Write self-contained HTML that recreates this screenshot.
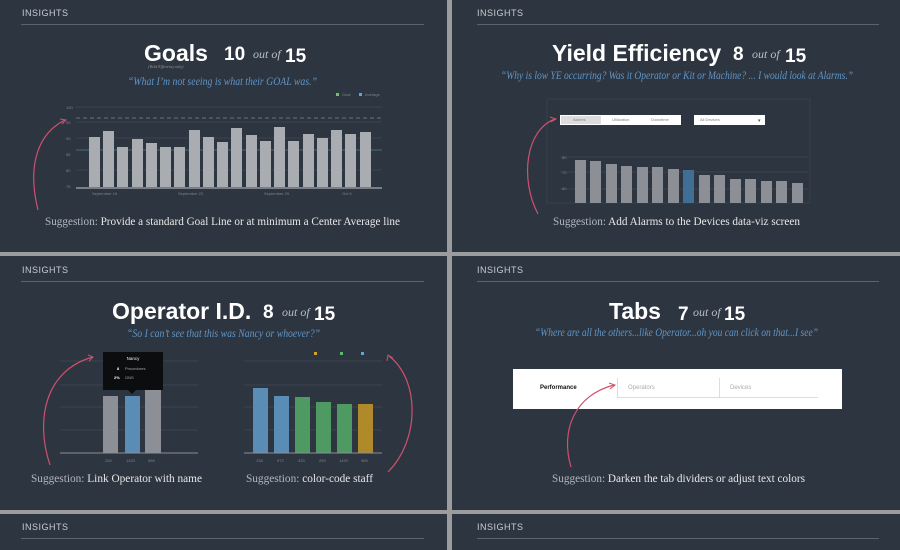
<!DOCTYPE html>
<html><head><meta charset="utf-8"><style>
html,body{margin:0;padding:0;width:900px;height:550px;overflow:hidden;background:#9a9c9e}
svg{display:block}
.ins{font:9px "Liberation Sans",sans-serif;fill:#c9cdd2;letter-spacing:.5px}
.t{font:bold 23px "Liberation Sans",sans-serif;fill:#fff}
.n{font:bold 19px "Liberation Sans",sans-serif;fill:#fff}
.o{font:italic 12px "Liberation Serif",serif;fill:#b9bec4}
.q{font:italic 12px "Liberation Serif",serif;fill:#5f95c6}
.s{font:12px "Liberation Serif",serif;fill:#e8e8e8}
.sl{fill:#b3b8be}
.tiny{font:4px "Liberation Sans",sans-serif;fill:#7c848d}
</style></head><body>
<svg width="900" height="550" viewBox="0 0 900 550" xmlns="http://www.w3.org/2000/svg">
<rect x="0" y="0" width="900" height="550" fill="#9a9c9e"/>
<rect x="0" y="0" width="447" height="252" fill="#2d3540"/>
<rect x="452" y="0" width="448" height="252" fill="#2d3540"/>
<rect x="0" y="256" width="447" height="254" fill="#2d3540"/>
<rect x="452" y="256" width="448" height="254" fill="#2d3540"/>
<rect x="0" y="514" width="447" height="36" fill="#2d3540"/>
<rect x="452" y="514" width="448" height="36" fill="#2d3540"/>

<g class="ins"><text x="22" y="16">INSIGHTS</text><text x="477" y="16">INSIGHTS</text>
<text x="22" y="273">INSIGHTS</text><text x="477" y="273">INSIGHTS</text>
<text x="22" y="530">INSIGHTS</text><text x="477" y="530">INSIGHTS</text></g>
<g stroke="#5a6470" stroke-width="1">
<line x1="21" y1="24.5" x2="424" y2="24.5"/><line x1="477" y1="24.5" x2="879" y2="24.5"/>
<line x1="21" y1="281.5" x2="424" y2="281.5"/><line x1="477" y1="281.5" x2="879" y2="281.5"/>
<line x1="21" y1="538.5" x2="424" y2="538.5"/><line x1="477" y1="538.5" x2="879" y2="538.5"/></g>

<!-- Panel 1 -->
<text class="t" x="144" y="61">Goals</text>
<text class="n" x="224" y="60">10</text><text class="o" x="253" y="58">out of</text><text class="n" x="285" y="62">15</text>
<text x="148" y="68" style="font:italic 4px 'Liberation Serif',serif;fill:#999">(Yield Efficiency only)</text>
<text class="q" x="128" y="85" textLength="189" lengthAdjust="spacingAndGlyphs">“What I’m not seeing is what their GOAL was.”</text>
<rect x="336" y="93" width="3" height="3" fill="#6fc26f"/><text class="tiny" x="342" y="96">Goal</text>
<rect x="359" y="93" width="3" height="3" fill="#5fa6d8"/><text class="tiny" x="365" y="96">Average</text>
<g stroke="#3f4955" stroke-width="0.8">
<line x1="76" y1="107" x2="382" y2="107"/><line x1="76" y1="122" x2="382" y2="122"/><line x1="76" y1="138" x2="382" y2="138"/><line x1="76" y1="170" x2="382" y2="170"/></g>
<line x1="76" y1="150" x2="382" y2="150" stroke="#4f7f8a" stroke-width="0.8"/>
<line x1="76" y1="118" x2="382" y2="118" stroke="#7c8894" stroke-width="0.8" stroke-dasharray="4,3"/>
<g fill="#a9acb1">
<rect x="89" y="137" width="11" height="50"/><rect x="103" y="131" width="11" height="56"/><rect x="117" y="147" width="11" height="40"/><rect x="132" y="139" width="11" height="48"/><rect x="146" y="143" width="11" height="44"/><rect x="160" y="147" width="11" height="40"/><rect x="174" y="147" width="11" height="40"/><rect x="189" y="130" width="11" height="57"/><rect x="203" y="137" width="11" height="50"/><rect x="217" y="142" width="11" height="45"/><rect x="231" y="128" width="11" height="59"/><rect x="246" y="135" width="11" height="52"/><rect x="260" y="141" width="11" height="46"/><rect x="274" y="127" width="11" height="60"/><rect x="288" y="141" width="11" height="46"/><rect x="303" y="134" width="11" height="53"/><rect x="317" y="138" width="11" height="49"/><rect x="331" y="130" width="11" height="57"/><rect x="345" y="134" width="11" height="53"/><rect x="360" y="132" width="11" height="55"/></g>
<line x1="76" y1="188" x2="382" y2="188" stroke="#a9acb1" stroke-width="1.2"/>
<g class="tiny" fill="#6a737c"><text x="66" y="109">100</text><text x="66" y="124">95</text><text x="66" y="140">90</text><text x="66" y="156">85</text><text x="66" y="172">80</text><text x="66" y="188">75</text>
<text x="92" y="195">September 16</text><text x="178" y="195">September 23</text><text x="264" y="195">September 29</text><text x="342" y="195">Oct 6</text></g>
<path d="M38,210 C28,170 35,135 65,120" fill="none" stroke="#d0506e" stroke-width="1.2"/>
<path d="M60,119 L66,120 L62,124" fill="none" stroke="#d0506e" stroke-width="1"/>
<text class="s" x="45" y="225" textLength="355" lengthAdjust="spacingAndGlyphs"><tspan class="sl">Suggestion:</tspan>  Provide a standard Goal Line or at minimum a Center Average line</text>

<!-- Panel 2 -->
<text class="t" x="552" y="61">Yield Efficiency</text>
<text class="n" x="733" y="60">8</text><text class="o" x="752" y="58">out of</text><text class="n" x="785" y="62">15</text>
<text class="q" x="501" y="79" textLength="352" lengthAdjust="spacingAndGlyphs">“Why is low YE occurring? Was it Operator or Kit or Machine? ... I would look at Alarms.”</text>
<rect x="547" y="99" width="263" height="104" fill="none" stroke="#3b4450" stroke-width="0.8"/>
<rect x="560" y="115" width="121" height="10" fill="#fff"/><rect x="561" y="116" width="40" height="8" fill="#dcdcdc"/>
<g class="tiny" fill="#888"><text x="573" y="121">Alarms</text><text x="612" y="121">Utilization</text><text x="651" y="121">Downtime</text></g>
<rect x="694" y="115" width="71" height="10" fill="#fff"/><text class="tiny" x="700" y="121" fill="#555">All Devices</text><text x="758" y="122" style="font:5px sans-serif;fill:#555">▾</text>
<g stroke="#3f4955" stroke-width="0.8"><line x1="560" y1="157" x2="808" y2="157"/><line x1="560" y1="172" x2="808" y2="172"/><line x1="560" y1="189" x2="808" y2="189"/></g>
<g class="tiny"><text x="562" y="159">80</text><text x="562" y="174">70</text><text x="562" y="190">60</text></g>
<g fill="#8c9096">
<rect x="575" y="160" width="11" height="43"/><rect x="590" y="161" width="11" height="42"/><rect x="606" y="164" width="11" height="39"/><rect x="621" y="166" width="11" height="37"/><rect x="637" y="167" width="11" height="36"/><rect x="652" y="167" width="11" height="36"/><rect x="668" y="169" width="11" height="34"/><rect x="683" y="170" width="11" height="33" fill="#3f6f95"/><rect x="699" y="175" width="11" height="28"/><rect x="714" y="175" width="11" height="28"/><rect x="730" y="179" width="11" height="24"/><rect x="745" y="179" width="11" height="24"/><rect x="761" y="181" width="11" height="22"/><rect x="776" y="181" width="11" height="22"/><rect x="792" y="183" width="11" height="20"/></g>
<path d="M538,214 C520,180 525,130 555,119" fill="none" stroke="#d0506e" stroke-width="1.2"/>
<path d="M550,117 L556,119 L551,122" fill="none" stroke="#d0506e" stroke-width="1"/>
<text class="s" x="553" y="225" textLength="247" lengthAdjust="spacingAndGlyphs"><tspan class="sl">Suggestion:</tspan>  Add Alarms to the Devices data-viz screen</text>

<!-- Panel 3 -->
<text class="t" x="112" y="319">Operator I.D.</text>
<text class="n" x="263" y="318">8</text><text class="o" x="282" y="316">out of</text><text class="n" x="314" y="320">15</text>
<text class="q" x="127" y="337" textLength="193" lengthAdjust="spacingAndGlyphs">“So I can’t see that this was Nancy or whoever?”</text>
<g stroke="#3f4955" stroke-width="0.8">
<line x1="60" y1="361" x2="198" y2="361"/><line x1="60" y1="385" x2="198" y2="385"/><line x1="60" y1="407" x2="198" y2="407"/><line x1="60" y1="430" x2="198" y2="430"/>
<line x1="244" y1="361" x2="382" y2="361"/><line x1="244" y1="385" x2="382" y2="385"/><line x1="244" y1="407" x2="382" y2="407"/><line x1="244" y1="430" x2="382" y2="430"/></g>
<rect x="103" y="396" width="15" height="57" fill="#8c9096"/><rect x="125" y="396" width="15" height="57" fill="#5a8db6"/><rect x="145" y="388" width="16" height="65" fill="#8c9096"/>
<rect x="103" y="352" width="60" height="38" fill="#0c0d0f"/><path d="M128,390 L132,394 L136,390Z" fill="#0c0d0f"/>
<text x="133" y="360" text-anchor="middle" style="font:4.5px 'Liberation Sans',sans-serif;fill:#eee">Nancy</text>
<text x="117" y="370" style="font:bold 4px 'Liberation Sans',sans-serif;fill:#fff">8</text><text x="125" y="370" style="font:4px 'Liberation Sans',sans-serif;fill:#aaa">Procedures</text>
<text x="114" y="379" style="font:bold 4px 'Liberation Sans',sans-serif;fill:#fff">2%</text><text x="125" y="379" style="font:4px 'Liberation Sans',sans-serif;fill:#aaa">GNS</text>
<line x1="60" y1="453" x2="198" y2="453" stroke="#8c9096" stroke-width="1"/>
<g class="tiny"><text x="105" y="462">259</text><text x="126" y="462">1420</text><text x="148" y="462">965</text></g>
<rect x="253" y="388" width="15" height="65" fill="#5a8db6"/><rect x="274" y="396" width="15" height="57" fill="#5a8db6"/><rect x="295" y="397" width="15" height="56" fill="#4f9a63"/><rect x="316" y="402" width="15" height="51" fill="#4f9a63"/><rect x="337" y="404" width="15" height="49" fill="#4f9a63"/><rect x="358" y="404" width="15" height="49" fill="#b08a2a"/>
<line x1="244" y1="453" x2="382" y2="453" stroke="#8c9096" stroke-width="1"/>
<g class="tiny"><text x="256" y="462">138</text><text x="277" y="462">972</text><text x="298" y="462">433</text><text x="319" y="462">259</text><text x="339" y="462">1420</text><text x="361" y="462">965</text></g>
<rect x="314" y="352" width="3" height="3" fill="#d4a52a"/><rect x="340" y="352" width="3" height="3" fill="#5cb86a"/><rect x="361" y="352" width="3" height="3" fill="#5fa6d8"/>
<path d="M50,465 C35,420 45,370 93,357" fill="none" stroke="#d0506e" stroke-width="1.2"/>
<path d="M88,355 L93,357 L89,361" fill="none" stroke="#d0506e" stroke-width="1"/>
<path d="M388,472 C420,440 420,380 389,356" fill="none" stroke="#d0506e" stroke-width="1.2"/>
<path d="M387,361 L388,355 L393,358" fill="none" stroke="#d0506e" stroke-width="1"/>
<text class="s" x="31" y="482" textLength="171" lengthAdjust="spacingAndGlyphs"><tspan class="sl">Suggestion:</tspan>  Link Operator with name</text>
<text class="s" x="246" y="482" textLength="127" lengthAdjust="spacingAndGlyphs"><tspan class="sl">Suggestion:</tspan>  color-code staff</text>

<!-- Panel 4 -->
<text class="t" x="609" y="319">Tabs</text>
<text class="n" x="678" y="320">7</text><text class="o" x="693" y="316">out of</text><text class="n" x="724" y="320">15</text>
<text class="q" x="535" y="336" textLength="283" lengthAdjust="spacingAndGlyphs">“Where are all the others...like Operator...oh you can click on that...I see”</text>
<rect x="513" y="369" width="329" height="40" fill="#fff"/>
<text x="540" y="389" style="font:bold 6px 'Liberation Sans',sans-serif;fill:#111">Performance</text>
<text x="628" y="389" style="font:6px 'Liberation Sans',sans-serif;fill:#aaa">Operators</text>
<text x="730" y="389" style="font:6px 'Liberation Sans',sans-serif;fill:#aaa">Devices</text>
<g stroke="#ddd" stroke-width="1"><line x1="617.5" y1="378" x2="617.5" y2="397"/><line x1="719.5" y1="378" x2="719.5" y2="397"/><line x1="617" y1="397.5" x2="818" y2="397.5"/></g>
<path d="M571,467 C560,430 575,395 614,385" fill="none" stroke="#d0506e" stroke-width="1.2"/>
<path d="M609,383 L615,385 L610,389" fill="none" stroke="#d0506e" stroke-width="1"/>
<text class="s" x="552" y="482" textLength="253" lengthAdjust="spacingAndGlyphs"><tspan class="sl">Suggestion:</tspan>  Darken the tab dividers or adjust text colors</text>
</svg>
</body></html>
